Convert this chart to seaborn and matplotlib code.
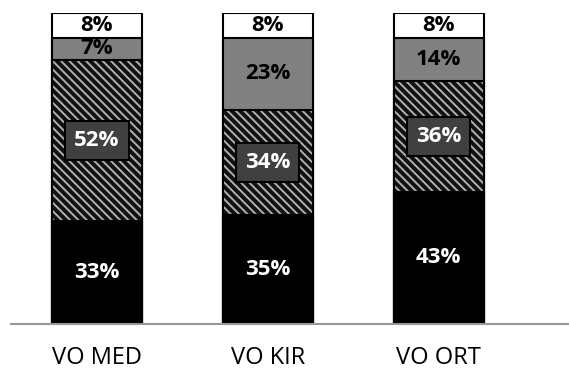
import numpy as np
import pandas as pd
import matplotlib
matplotlib.use('Agg')
from matplotlib import pyplot as plt
import seaborn as sns

# 数据
categories = ['VO MED', 'VO KIR', 'VO ORT']
black_vals = [33, 35, 43]
hatch_vals = [52, 34, 36]
gray_vals = [7, 23, 14]
white_vals = [8, 8, 8]

sns.set_style('white')
plt.rcParams['font.family'] = ['Open Sans', 'DejaVu Sans']
plt.rcParams['hatch.linewidth'] = 1.4

df = pd.DataFrame({'cat': categories, 'black': black_vals, 'hatch': hatch_vals,
                   'gray': gray_vals, 'white': white_vals})
total = df[['black', 'hatch', 'gray', 'white']].sum(axis=1)
# 归一化到100%
for c in ['black', 'hatch', 'gray', 'white']:
    df[c + '_n'] = df[c] / total * 100
df['c1'] = df['black_n']
df['c2'] = df['c1'] + df['hatch_n']
df['c3'] = df['c2'] + df['gray_n']
df['c4'] = df['c3'] + df['white_n']

fig = plt.figure(figsize=(5.69, 3.76), dpi=100)
ax = fig.add_axes([0.0202, 0.138, 0.979, 0.827])

w = 0.526
lw = 1.5
sns.barplot(data=df, x='cat', y='c4', color='white', edgecolor='black', linewidth=lw, width=w, ax=ax, saturation=1)
sns.barplot(data=df, x='cat', y='c3', color='#808080', edgecolor='black', linewidth=lw, width=w, ax=ax, saturation=1)
# 斜线填充层：线条颜色跟随 edgecolor
sns.barplot(data=df, x='cat', y='c2', color='#111111', edgecolor='#b0b0b0', linewidth=0, width=w, ax=ax, saturation=1,
            hatch='\\\\\\\\')
# 外框
sns.barplot(data=df, x='cat', y='c2', fill=False, edgecolor='black', linewidth=lw, width=w, ax=ax)
sns.barplot(data=df, x='cat', y='c1', color='black', edgecolor='black', linewidth=lw, width=w, ax=ax, saturation=1)

fs = 16
for i in range(len(df)):
    r = df.iloc[i]
    ax.text(i, r['c1'] / 2, f"{r['black']}%", ha='center', va='center', color='white',
            fontsize=fs, fontweight='bold')
    ax.text(i, (r['c1'] + r['c2']) / 2, f"{r['hatch']}%", ha='center', va='center', color='white',
            fontsize=fs, fontweight='bold',
            bbox=dict(boxstyle='square,pad=0.4', facecolor='#404040', edgecolor='black', linewidth=1.5))
    ax.text(i, (r['c2'] + r['c3']) / 2, f"{r['gray']}%", ha='center', va='center', color='black',
            fontsize=fs, fontweight='bold')
    ax.text(i, (r['c3'] + r['c4']) / 2, f"{r['white']}%", ha='center', va='center', color='black',
            fontsize=fs, fontweight='bold')

ax.set_xlim(-0.5, 2.76)
ax.set_ylim(0, 100)
ax.set_xlabel('')
ax.set_ylabel('')
ax.set_yticks([])
ax.tick_params(axis='x', length=0, pad=16, labelsize=17, labelcolor='black')
for s in ['top', 'right', 'left']:
    ax.spines[s].set_visible(False)
ax.spines['bottom'].set_color('#999999')
ax.spines['bottom'].set_linewidth(1.5)

plt.savefig('out.png', dpi=100)
